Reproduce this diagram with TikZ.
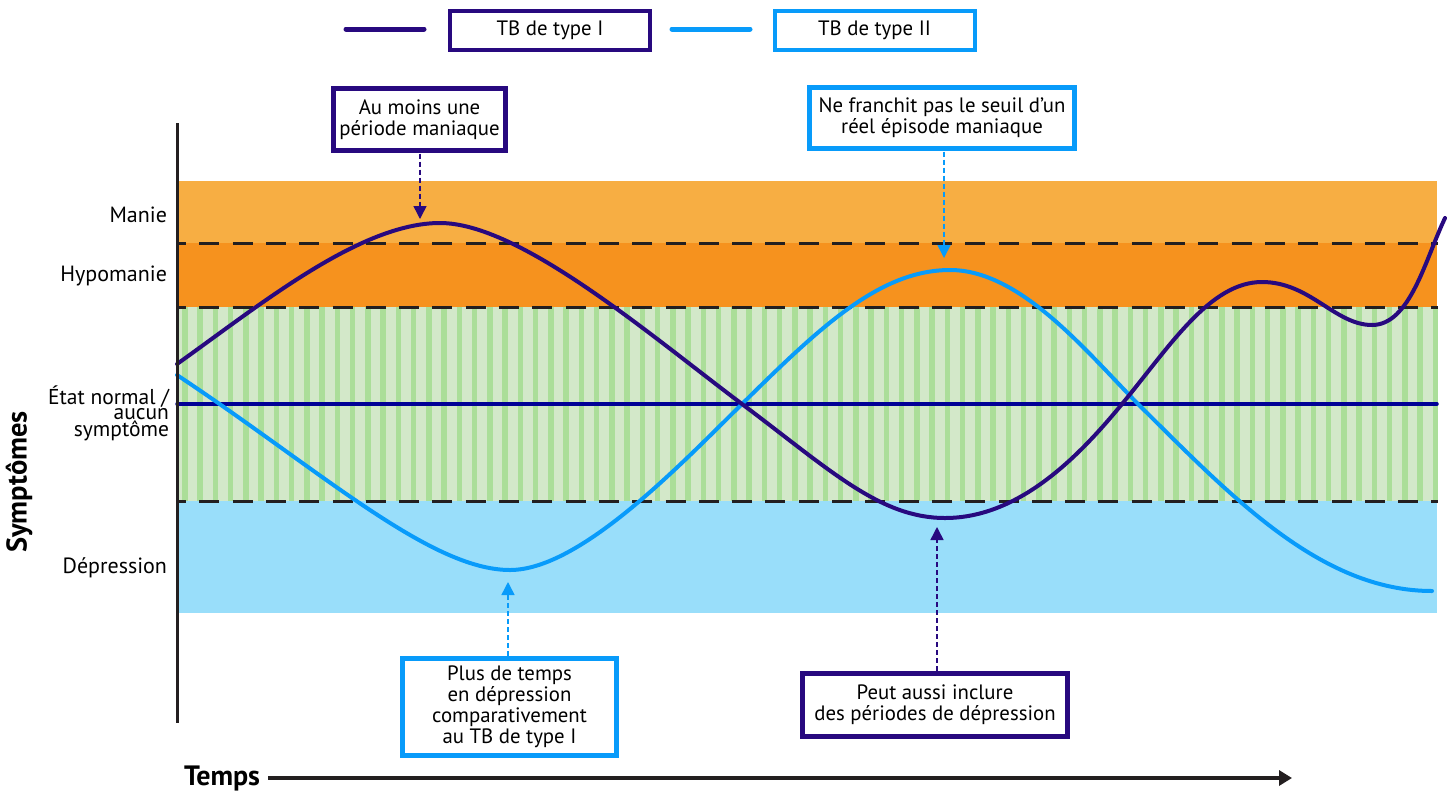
\documentclass[tikz,border=0pt]{standalone}
\usepackage{fontspec}
\setmainfont{PT Sans}
\usetikzlibrary{arrows.meta}
\definecolor{tbone}{RGB}{40,9,127}
\definecolor{tbtwo}{RGB}{8,155,250}
\definecolor{normline}{RGB}{0,0,150}
\definecolor{axisgray}{RGB}{35,31,32}
\definecolor{maniecol}{RGB}{247,174,67}
\definecolor{hypocol}{RGB}{246,146,30}
\definecolor{greenbase}{RGB}{211,232,201}
\definecolor{greenstripe}{RGB}{171,222,153}
\definecolor{deprcol}{RGB}{153,222,250}
\begin{document}
\begin{tikzpicture}[x=1pt,y=-1pt,
  every node/.style={inner sep=0pt,outer sep=0pt},
  notebox/.style={draw,line width=5pt,fill=white,align=center,
    font=\fontsize{20.8}{21}\selectfont},
  legbox/.style={draw,line width=4pt,fill=white,align=center,
    minimum width=200pt,minimum height=39pt,font=\fontsize{20.8}{21}\selectfont},
  leglabel/.style={anchor=base east,font=\fontsize{22}{24}\selectfont},
  threshold/.style={axisgray,line width=3pt,dash pattern=on 20pt off 13.3pt,dash phase=11pt},
  curve/.style={line width=4pt,line cap=round},
  annot/.style={line width=1.5pt,dash pattern=on 5pt off 3pt,-{Triangle[length=13pt,width=13pt]}},
]
\useasboundingbox (0,0) rectangle (1453,796);
% bands
\fill[maniecol] (179,181) rectangle (1437,243);
\fill[hypocol] (179,243) rectangle (1437,307);
\fill[greenbase] (179,307) rectangle (1437,501);
\foreach \i in {0,...,82} {\fill[greenstripe] ({182+\i*15.25},307) rectangle ++(5.5,194);}
\fill[deprcol] (179,501) rectangle (1437,613);
% thresholds
\draw[threshold] (177,243) -- (1438,243);
\draw[threshold] (177,307) -- (1438,307);
\draw[threshold] (177,501) -- (1438,501);
% normal line
\draw[normline,line width=3.5pt,line cap=round] (177,404) -- (1437,404);
% curves
\draw[tbtwo,curve] (177,375) .. controls (320,470) and (430,570) .. (510,570)
  .. controls (580,570) and (680,465) .. (742,404)
  .. controls (820,327) and (880,270) .. (950,270)
  .. controls (1020,270) and (1085,350) .. (1138,404)
  .. controls (1230,495) and (1320,591) .. (1432,591);
\draw[tbone,curve] (177,364) .. controls (260,305) and (360,223) .. (440,223)
  .. controls (520,223) and (650,335) .. (742,404)
  .. controls (830,470) and (880,518) .. (945,518)
  .. controls (1020,518) and (1080,455) .. (1122,404)
  .. controls (1170,346) and (1210,282) .. (1262,282)
  .. controls (1310,282) and (1335,325) .. (1372,325)
  .. controls (1410,325) and (1425,260) .. (1445,218);
% y axis
\draw[axisgray,line width=3pt] (177,123) -- (177,723);
% axis labels
\node[leglabel] (manie) at (167,222) {Manie};
\node[leglabel] (hypo) at (167,281) {Hypomanie};
\node[anchor=east,align=right,font=\fontsize{21.5}{13}\selectfont] (normal) at (169,413) {État normal /\\aucun\\symptôme};
\node[leglabel] (depr) at (167,573) {Dépression};
\node[rotate=90,font=\fontsize{28.5}{30}\selectfont\bfseries] (sympt) at (19,482) {Symptômes};
% time axis
\node[anchor=base west,font=\fontsize{28}{30}\selectfont\bfseries] (temps) at (184,785) {Temps};
\coordinate (tstart) at (268,778);
\coordinate (tend) at (1292,778);
\draw[axisgray,line width=4pt,-{Triangle[length=13pt,width=15pt]}] (tstart) -- (tend);
% legend
\coordinate (l1a) at (346,29); \coordinate (l1b) at (424,29);
\coordinate (l2a) at (672,29); \coordinate (l2b) at (750,29);
\draw[tbone,line width=5pt,line cap=round] (l1a) -- (l1b);
\draw[tbtwo,line width=5pt,line cap=round] (l2a) -- (l2b);
\node[legbox,draw=tbone] (leg1) at (550,30.5) {TB de type I};
\node[legbox,draw=tbtwo] (leg2) at (874.5,30.5) {TB de type II};
% annotations
\coordinate (pA) at (420,219);
\coordinate (pB) at (944,258);
\coordinate (pC) at (508,582);
\coordinate (pD) at (937,527);
\node[notebox,draw=tbone,minimum width=172pt,minimum height=62pt] (boxA) at (419.5,119.5) {Au moins une\\période maniaque};
\node[notebox,draw=tbtwo,minimum width=265pt,minimum height=61pt] (boxB) at (942,118) {Ne franchit pas le seuil d’un\\réel épisode maniaque};
\node[notebox,draw=tbtwo,minimum width=214pt,minimum height=97pt] (boxC) at (509.5,707) {Plus de temps\\en dépression\\comparativement\\au TB de type I};
\node[notebox,draw=tbone,minimum width=265pt,minimum height=63pt] (boxD) at (935,705) {Peut aussi inclure\\des périodes de dépression};
\draw[annot,tbone] (boxA.south -| pA) ++(0,3) -- (pA);
\draw[annot,tbtwo] (boxB.south -| pB) ++(0,3) -- (pB);
\draw[annot,tbtwo] (boxC.north -| pC) ++(0,-3) -- (pC);
\draw[annot,tbone] (boxD.north -| pD) ++(0,-3) -- (pD);
\end{tikzpicture}
\end{document}
